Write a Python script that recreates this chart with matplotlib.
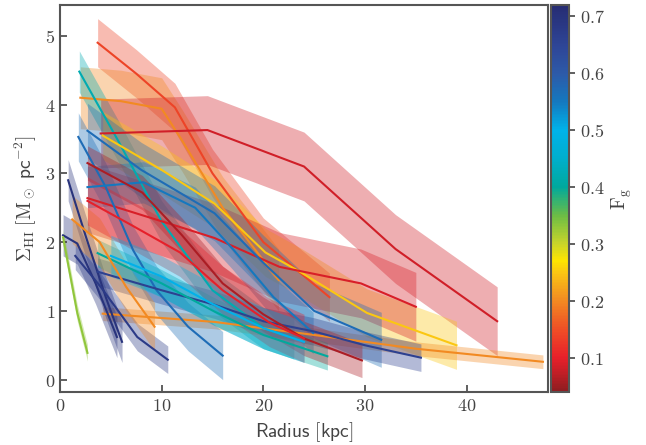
import matplotlib
matplotlib.use('Agg')
import matplotlib.pyplot as plt
import numpy as np
from matplotlib.colors import LinearSegmentedColormap, Normalize
from matplotlib.cm import ScalarMappable
from matplotlib.ticker import FuncFormatter

plt.rcParams['mathtext.fontset'] = 'cm'

# HI surface density profiles: radius [kpc], sigma, band half-width, gas fraction
radii = [
    [3.7, 7.5, 11.3, 15, 20, 26.5],
    [2, 6, 10, 12, 16, 21.5],
    [1.9, 5.7, 10, 15, 20, 23],
    [4.0, 14.5, 24, 33, 43],
    [4.2, 10, 15.2, 20.2, 23.6, 30.2, 39],
    [2.7, 11.8, 15.2, 21.6, 29.6, 35],
    [4.2, 15.2, 25, 35, 47.5],
    [1.8, 4.5, 7.2, 9.5, 12.6, 16],
    [2.7, 8, 15.2, 20, 25, 31.6],
    [2.7, 8.2, 13.3, 17, 21, 24.9],
    [0.3, 1.7, 3.5, 5.6],
    [0.8, 2.5, 4.5, 6.1],
    [1.5, 4, 7.6, 10.6],
    [3.7, 10, 15.2, 20, 25, 30, 35.5],
    [0.3, 1.7, 2.7],
    [3.7, 10, 15.2, 20, 26.3],
    [1.2, 3.9, 6.5, 9.3],
    [2.7, 8.1, 12, 16, 20, 24, 29.7],
    [2.7, 7, 11.8, 16, 20.6, 24],
    [5, 10, 15, 20, 24],
]
sigmas = [
    [4.9, 4.45, 3.96, 3.0, 2.0, 1.2],
    [4.1, 4.05, 3.94, 3.48, 2.5, 1.45],
    [4.48, 3.48, 2.3, 1.3, 0.75, 0.6],
    [3.58, 3.63, 3.1, 1.9, 0.85],
    [3.55, 3.05, 2.56, 1.85, 1.57, 0.97, 0.5],
    [2.64, 2.22, 2.06, 1.64, 1.4, 1.06],
    [0.96, 0.84, 0.65, 0.45, 0.26],
    [3.53, 2.8, 1.88, 1.3, 0.77, 0.35],
    [3.62, 3.05, 2.42, 1.7, 1.0, 0.58],
    [2.8, 2.87, 2.5, 1.9, 1.2, 0.68],
    [2.1, 1.98, 1.4, 0.62],
    [2.9, 2.1, 1.2, 0.55],
    [1.8, 1.35, 0.62, 0.29],
    [1.57, 1.3, 1.09, 0.85, 0.7, 0.5, 0.32],
    [2.07, 0.97, 0.39],
    [1.84, 1.4, 0.99, 0.65, 0.34],
    [2.33, 2.0, 1.35, 0.77],
    [3.15, 2.72, 2.1, 1.4, 0.95, 0.6, 0.28],
    [2.6, 2.25, 1.85, 1.3, 0.83, 0.6],
    [1.8, 1.5, 1.1, 0.75, 0.55],
]
errs = [0.35, 0.45, 0.3, 0.5, 0.35, 0.5, 0.1, 0.35, 0.4, 0.3,
        0.3, 0.3, 0.2, 0.2, 0.12, 0.2, 0.35, 0.25, 0.35, 0.3]
fgas = [0.14, 0.2, 0.42, 0.085, 0.25, 0.09, 0.2, 0.57, 0.57, 0.55,
        0.7, 0.7, 0.68, 0.66, 0.33, 0.4, 0.2, 0.06, 0.1, 0.5]

cbar_ticks = [0.1, 0.2, 0.3, 0.4, 0.5, 0.6, 0.7]

vmin, vmax = 0.04, 0.72
anchors = [(0.04, '#8c1c20'), (0.07, '#bf1e26'), (0.1, '#e8202a'), (0.15, '#ef4f26'),
           (0.2, '#f28a22'), (0.25, '#fbc613'), (0.27, '#fee600'), (0.3, '#c9d52a'),
           (0.35, '#6cbd45'), (0.4, '#00a99d'), (0.45, '#00aecc'), (0.5, '#00b3ea'),
           (0.55, '#1479c0'), (0.6, '#2d5aa8'), (0.65, '#2e4596'), (0.72, '#262c73')]
cmap = LinearSegmentedColormap.from_list(
    'fg', [((f - vmin) / (vmax - vmin), c) for f, c in anchors])
norm = Normalize(vmin=vmin, vmax=vmax)

fig = plt.figure(figsize=(6.46, 4.45), dpi=100)
ax = fig.add_axes([0.0929, 0.119, 0.7554, 0.870])
cax = fig.add_axes([0.853, 0.119, 0.028, 0.870])

for r, s, e, f in zip(radii, sigmas, errs, fgas):
    r = np.array(r)
    s = np.array(s)
    col = cmap(norm(f))
    ax.fill_between(r, s - e, s + e, color=col, alpha=0.36, lw=0)
    ax.plot(r, s, color=col, lw=1.5)

ax.set_xlim(0, 48)
ax.set_ylim(-0.18, 5.45)
ax.set_xticks([0, 10, 20, 30, 40])
ax.set_yticks([0, 1, 2, 3, 4, 5])
fmt = FuncFormatter(lambda v, p: f'${v:g}$')
ax.xaxis.set_major_formatter(fmt)
ax.yaxis.set_major_formatter(fmt)
ax.tick_params(direction='in', length=5, width=1.2, labelsize=13, colors='#444444')
ax.set_xlabel(r'$\mathsf{Radius\ [kpc]}$', fontsize=14, color='#444444')
ax.set_ylabel(r'$\Sigma_{\rm HI}\ [\mathrm{M}_\odot\ \mathsf{pc}^{-2}]$', fontsize=14,
              color='#444444')
for sp in ax.spines.values():
    sp.set_color('#555555')
    sp.set_linewidth(1.5)

sm = ScalarMappable(norm=norm, cmap=cmap)
cb = fig.colorbar(sm, cax=cax)
cb.set_ticks(cbar_ticks)
cb.ax.yaxis.set_major_formatter(fmt)
cb.ax.tick_params(length=4, width=1.2, labelsize=13, colors='#444444')
cb.outline.set_edgecolor('#555555')
cb.outline.set_linewidth(1.5)
cb.set_label(r'$\mathrm{F_g}$', fontsize=14, color='#444444')

fig.savefig('out.png', dpi=100)
